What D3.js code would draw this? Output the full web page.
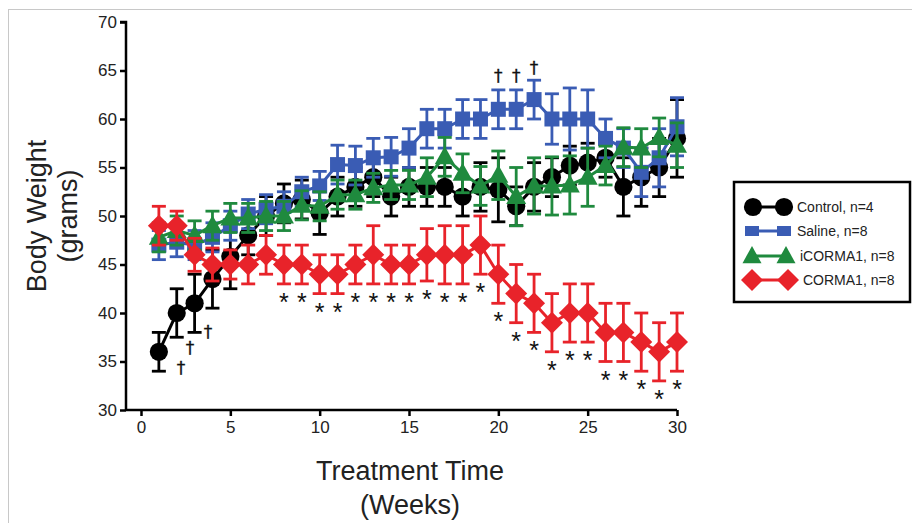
<!DOCTYPE html>
<html>
<head>
<meta charset="utf-8">
<script src="https://cdn.jsdelivr.net/npm/d3@7"></script>
<style>
  body{margin:0;background:#fff;}
  svg{display:block;font-family:"Liberation Sans",Arial,sans-serif;}
</style>
</head>
<body>
<div id="chart"></div>
<script>
// weeks 1..30
const weeks = d3.range(1, 31);

const control    = [36,40,41,43.5,45.8,48,50,51.3,51.7,50.3,52,53,54,52,53,53,53,52,53,52.7,51,53,54,55.2,55.5,56,53,54,55,58];
const controlErr = [2,2.5,3,3,3.3,2,2,2,2,2.2,2,2,2,2,2,2,2,2,2.5,3.3,2,2.5,2,2,2,2,3,3,3,4];

const saline    = [47,47.3,47,47.8,49,50.2,50.7,51,52.5,53.1,55.3,55.2,56,56.1,57,59,59,60,60,61,61,62,60,60,60,58,57,54.5,56,59.2];
const salineErr = [1.5,1.5,1.5,1.5,1.5,1.5,1.5,1.5,1.5,1.5,2,2,2,2,2,2,2,2,2,2,2,2,2.6,3.2,3,2,2,2.5,3,3];

const icorma    = [47.8,48.5,48,49,49.8,49.8,50,50,51.1,51,52.2,52.2,52.9,53.2,53.2,54,56.1,54.4,53.1,54.2,52,53.1,53.1,53.2,54,55.2,57.1,57,58.1,57.3];
const icormaErr = [1.5,1.5,1.5,1.5,1.5,1.5,1.5,1.5,1.5,1.5,1.5,1.5,1.5,1.5,1.5,2,2,2,2,2.5,3,2.9,3,3,3,2,2,2,2,2.3];

const corma    = [49,49,46,45,45,45,46,45,45,44,44,45,46,45,45,46,46,46,47,44,42,41,39,40,40,38,38,37,36,37];
const cormaErr = [2,1.5,1.7,1.7,1.5,2,2,2,2,2,2,2,3,2,2,2.7,3,3,3,3,3,3,3,3,3,3,3,3,3,3];

// weeks marked with * (CORMA1 vs control)
const starWeeks = d3.range(8, 31);
// dagger marks [week, grams]
const daggers = [[2.24,34.4],[2.74,36.5],[3.75,38.1],[20,64.5],[21,64.5],[22,65.4]];

const seriesNames = ["Control, n=4","Saline, n=8","iCORMA1, n=8","CORMA1, n=8"];
const seriesColors = ["#000000","#3a5cb4","#1f8a3e","#e8232a"];
const seriesShapes = ["circle","square","triangle","diamond"];

const xTicks = [0,5,10,15,20,25,30];
const yTicks = [30,35,40,45,50,55,60,65,70];

const W = 912, H = 523;
const svg = d3.select("#chart").append("svg").attr("width", W).attr("height", H);

// outer frame
svg.append("rect").attr("x",8.5).attr("y",9.5).attr("width",W).attr("height",H)
  .attr("fill","none").attr("stroke","#c8c8c8").attr("stroke-width",1);

const x = d3.scaleLinear().domain([0,30]).range([141,677]);
const y = d3.scaleLinear().domain([30,70]).range([410,22]);
const axLeft = 126;

// axes
const gy = svg.append("g").attr("transform",`translate(${axLeft},0)`)
  .call(d3.axisLeft(y).tickValues(yTicks).tickSize(6).tickPadding(3));
const gx = svg.append("g").attr("transform",`translate(0,${y(30)})`)
  .call(d3.axisBottom(x).tickValues(xTicks).tickSize(6).tickPadding(5));
gy.select(".domain").attr("d",`M-6,${y(70)}H0V${y(30)}`);
gx.select(".domain").attr("d",`M${axLeft},0H${x(30)}`);
[gy,gx].forEach(g=>{
  g.selectAll(".domain").attr("stroke","#000").attr("stroke-width",2.5);
  g.selectAll(".tick line").attr("stroke","#000").attr("stroke-width",2.5);
  g.selectAll(".tick text").attr("font-size",17).attr("fill","#222")
    .attr("font-family","'Liberation Sans',Arial,sans-serif");
});

// axis titles
svg.append("text").attr("transform","translate(46,216) rotate(-90)")
  .attr("text-anchor","middle").attr("font-size",27).attr("fill","#222").text("Body Weight");
svg.append("text").attr("transform","translate(77,216) rotate(-90)")
  .attr("text-anchor","middle").attr("font-size",27).attr("fill","#222").text("(grams)");
svg.append("text").attr("x",410).attr("y",480)
  .attr("text-anchor","middle").attr("font-size",27).attr("fill","#222").text("Treatment Time");
svg.append("text").attr("x",410).attr("y",514)
  .attr("text-anchor","middle").attr("font-size",27).attr("fill","#222").text("(Weeks)");

function shapePath(shape, s){
  if(shape==="circle") return d3.symbol(d3.symbolCircle, 260*s*s)();
  if(shape==="square") return `M${-7.5*s},${-7.5*s}h${15*s}v${15*s}h${-15*s}Z`;
  if(shape==="triangle") return `M0,${-10.5*s}L${10*s},${7.5*s}L${-10*s},${7.5*s}Z`;
  return `M0,${-11*s}L${11*s},0L0,${11*s}L${-11*s},0Z`;
}

const series = [
  {vals:control, err:controlErr},
  {vals:saline, err:salineErr},
  {vals:icorma, err:icormaErr},
  {vals:corma, err:cormaErr}
];

const line = d3.line().x((d,i)=>x(weeks[i])).y(d=>y(d));

series.forEach((s,k)=>{
  const col = seriesColors[k];
  const g = svg.append("g");
  // error bars
  const eb = g.selectAll("g.eb").data(weeks).join("g");
  eb.append("line")
    .attr("x1",w=>x(w)).attr("x2",w=>x(w))
    .attr("y1",(w,i)=>y(s.vals[i]+s.err[i])).attr("y2",(w,i)=>y(s.vals[i]-s.err[i]))
    .attr("stroke",col).attr("stroke-width",2.8);
  [1,-1].forEach(sg=>{
    eb.append("line")
      .attr("x1",w=>x(w)-7).attr("x2",w=>x(w)+7)
      .attr("y1",(w,i)=>y(s.vals[i]+sg*s.err[i])).attr("y2",(w,i)=>y(s.vals[i]+sg*s.err[i]))
      .attr("stroke",col).attr("stroke-width",2.8);
  });
  g.append("path").datum(s.vals).attr("d",line)
    .attr("fill","none").attr("stroke",col).attr("stroke-width",3);
  g.selectAll("path.mk").data(s.vals).join("path").attr("class","mk")
    .attr("transform",(d,i)=>`translate(${x(weeks[i])},${y(d)})`)
    .attr("d",shapePath(seriesShapes[k],1)).attr("fill",col);
});

// stars below CORMA1 error bars
svg.selectAll("text.star").data(starWeeks).join("text").attr("class","star")
  .attr("x",w=>x(w)).attr("y",w=>y(corma[w-1]-cormaErr[w-1])+27)
  .attr("text-anchor","middle").attr("font-size",25).attr("fill","#111")
  .attr("font-family","'Liberation Sans',Arial,sans-serif").text("*");

// daggers (own layer so glyphs get grey antialiasing)
const dg = svg.append("g").attr("opacity",0.999);
dg.selectAll("text.dag").data(daggers).join("text").attr("class","dag")
  .attr("x",d=>x(d[0])).attr("y",d=>y(d[1])+7)
  .attr("text-anchor","middle").attr("font-size",17).attr("fill","#111")
  .attr("stroke","#111").attr("stroke-width",0.3)
  .attr("font-family","'DejaVu Sans',sans-serif").text("\u2020");

// legend
const lg = svg.append("g");
lg.append("rect").attr("x",734).attr("y",182).attr("width",176).attr("height",120)
  .attr("fill","#fff").attr("stroke","#000").attr("stroke-width",2.5);
const legY = [207,231,256,280];
const legMk = [[753,784],[752,784],[752,786],[752,788]];
const legTx = [797,797,800,803];
const legScale = [1.0,0.85,0.95,1.0];
seriesNames.forEach((n,k)=>{
  const [a,b] = legMk[k];
  lg.append("line").attr("x1",a).attr("x2",b).attr("y1",legY[k]).attr("y2",legY[k])
    .attr("stroke",seriesColors[k]).attr("stroke-width",3);
  [a,b].forEach(px=>{
    let p = shapePath(seriesShapes[k],legScale[k]);
    if(seriesShapes[k]==="square") p = "M-7,-5h14v10h-14Z";
    lg.append("path").attr("transform",`translate(${px},${legY[k]})`).attr("d",p).attr("fill",seriesColors[k]);
  });
  lg.append("text").attr("x",legTx[k]).attr("y",legY[k]+5).attr("font-size",14).attr("fill","#222").text(n);
});
</script>
</body>
</html>
